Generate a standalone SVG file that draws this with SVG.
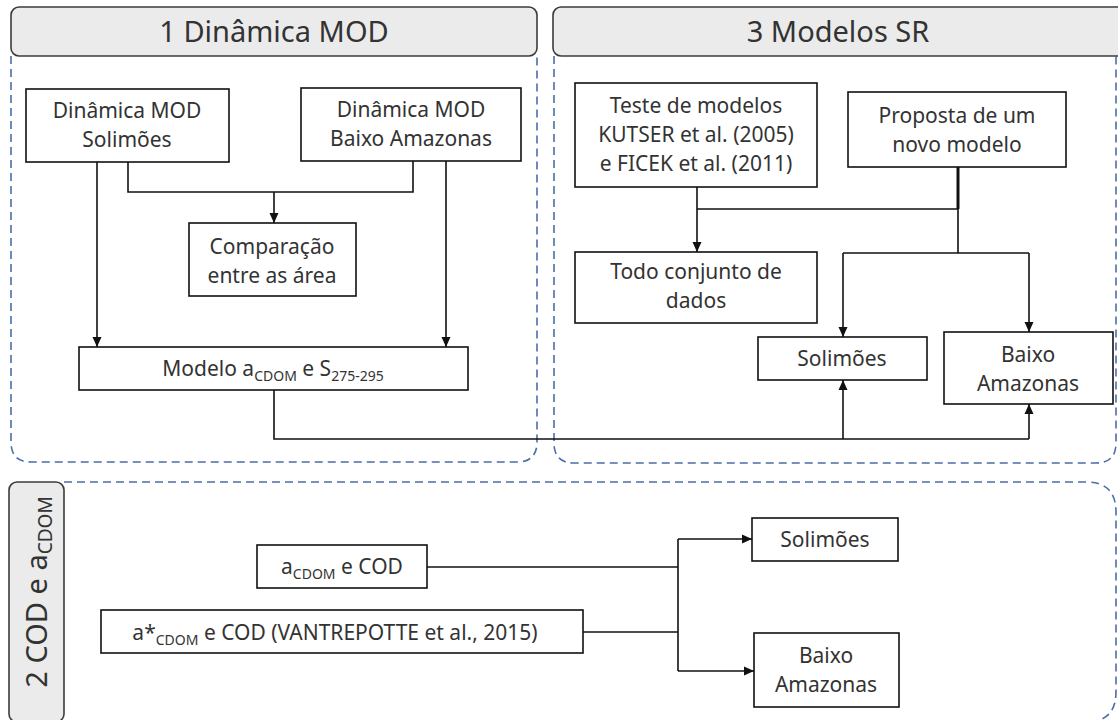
<svg xmlns="http://www.w3.org/2000/svg" width="1118" height="720" viewBox="0 0 1118 720">
<defs>
<marker id="ah" markerUnits="userSpaceOnUse" markerWidth="10" markerHeight="10" viewBox="0 0 10 10" refX="10" refY="5" orient="auto">
<path d="M0,0.5 L10,5 L0,9.5 Z" fill="#111"/>
</marker>
<style>
.hdr{fill:#ebebeb;stroke:#3c3c3c;stroke-width:1.6}
.cont{fill:none;stroke:#4a6ea9;stroke-width:1.6;stroke-dasharray:8 5}
.box{fill:#fff;stroke:#111;stroke-width:1.6}
.t{font-family:"Noto Sans","Open Sans",sans-serif;font-size:21px;fill:#333;text-anchor:middle}
.ht{font-family:"Noto Sans","Open Sans",sans-serif;font-size:29px;fill:#333;text-anchor:middle}
.sub{font-size:14px}
.c{fill:none;stroke:#111;stroke-width:1.6}
.ca{fill:none;stroke:#111;stroke-width:1.6;marker-end:url(#ah)}
</style>
</defs>

<g id="containers">
<path class="cont" d="M11,56 V442 Q11,462 31,462 H517 Q537,462 537,442 V56"/>
<path class="cont" d="M554,56 V443 Q554,463 574,463 H1096 Q1116,463 1116,443 V56"/>
<path class="cont" d="M64,482 H1086 Q1116,482 1116,512 V692 Q1116,722 1086,722 H64"/>
</g>

<g id="header1">
<rect class="hdr" x="11" y="7" width="526" height="49" rx="8"/>
<text class="ht" x="274" y="42">1 Dinâmica MOD</text>
</g>
<g id="header3">
<rect class="hdr" x="553" y="7" width="580" height="49" rx="8"/>
<text class="ht" x="838" y="42">3 Modelos SR</text>
</g>
<g id="header2">
<rect class="hdr" x="9" y="482" width="55" height="240" rx="8"/>
<text class="ht" transform="translate(47,592) rotate(-90)">2 COD e a<tspan font-size="19" dy="5">CDOM</tspan></text>
</g>

<g id="connectors">
<path class="ca" d="M97,162 V347"/>
<path class="ca" d="M446,161 V347"/>
<path class="c" d="M128,162 V192 H413 V161"/>
<path class="ca" d="M274,192 V223"/>
<path class="c" d="M274,390 V439 H1029"/>
<path class="ca" d="M843,439 V380"/>
<path class="ca" d="M1029,439 V404"/>
<path class="ca" d="M697,187 V252"/>
<path class="c" d="M958,167 V209" style="stroke-width:3"/>
<path class="c" d="M697,209 H958 V253"/>
<path class="c" d="M843,253 H1029"/>
<path class="ca" d="M843,253 V337"/>
<path class="ca" d="M1029,253 V332"/>
<path class="c" d="M427,567 H678"/>
<path class="c" d="M583,632 H678"/>
<path class="c" d="M678,539 V671"/>
<path class="ca" d="M678,539 H752"/>
<path class="ca" d="M678,671 H754"/>
</g>

<g id="n-dm-sol">
<rect class="box" x="26" y="89" width="203" height="73"/>
<text class="t" x="127" y="118">Dinâmica MOD</text>
<text class="t" x="127" y="147">Solimões</text>
</g>
<g id="n-dm-baixo">
<rect class="box" x="301" y="88" width="220" height="73"/>
<text class="t" x="411" y="117">Dinâmica MOD</text>
<text class="t" x="411" y="146">Baixo Amazonas</text>
</g>
<g id="n-comp">
<rect class="box" x="189" y="223" width="167" height="73"/>
<text class="t" x="272" y="254">Comparação</text>
<text class="t" x="272" y="283">entre as área</text>
</g>
<g id="n-modelo">
<rect class="box" x="79" y="347" width="389" height="43"/>
<text class="t" x="273" y="376">Modelo a<tspan class="sub" dy="5">CDOM</tspan><tspan dy="-5"> e S</tspan><tspan class="sub" dy="5">275-295</tspan></text>
</g>

<g id="n-teste">
<rect class="box" x="575" y="83" width="242" height="104"/>
<text class="t" x="696" y="113">Teste de modelos</text>
<text class="t" x="696" y="142">KUTSER et al. (2005)</text>
<text class="t" x="696" y="171">e FICEK et al. (2011)</text>
</g>
<g id="n-proposta">
<rect class="box" x="848" y="92" width="218" height="75"/>
<text class="t" x="957" y="123">Proposta de um</text>
<text class="t" x="957" y="152">novo modelo</text>
</g>
<g id="n-todo">
<rect class="box" x="575" y="252" width="242" height="71"/>
<text class="t" x="696" y="279">Todo conjunto de</text>
<text class="t" x="696" y="308">dados</text>
</g>
<g id="n-sol3">
<rect class="box" x="758" y="337" width="169" height="43"/>
<text class="t" x="842" y="366">Solimões</text>
</g>
<g id="n-baixo3">
<rect class="box" x="944" y="332" width="169" height="72"/>
<text class="t" x="1028" y="362">Baixo</text>
<text class="t" x="1028" y="391">Amazonas</text>
</g>

<g id="n-acdom">
<rect class="box" x="257" y="545" width="170" height="43"/>
<text class="t" x="342" y="574">a<tspan class="sub" dy="5">CDOM</tspan><tspan dy="-5"> e COD</tspan></text>
</g>
<g id="n-vantre">
<rect class="box" x="101" y="610" width="482" height="43"/>
<text class="t" x="335" y="640">a*<tspan class="sub" dy="5">CDOM</tspan><tspan dy="-5"> e COD (VANTREPOTTE et al., 2015)</tspan></text>
</g>
<g id="n-sol2">
<rect class="box" x="752" y="518" width="146" height="43"/>
<text class="t" x="825" y="547">Solimões</text>
</g>
<g id="n-baixo2">
<rect class="box" x="754" y="633" width="145" height="74"/>
<text class="t" x="826" y="663">Baixo</text>
<text class="t" x="826" y="692">Amazonas</text>
</g>
</svg>
